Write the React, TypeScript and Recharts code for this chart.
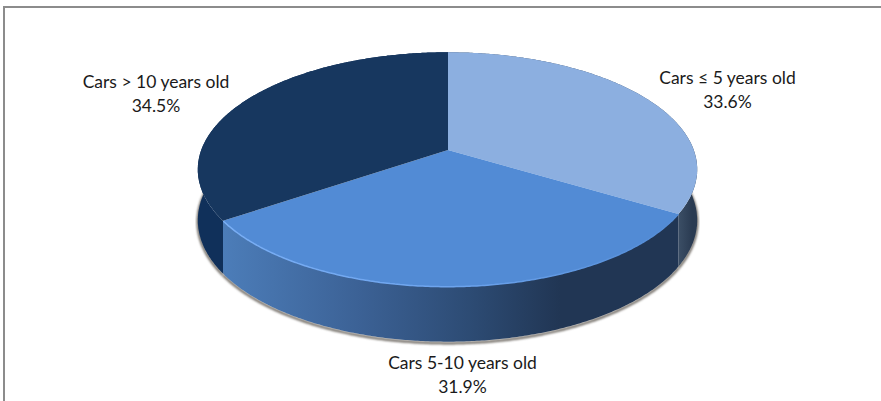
import React from "react";
import { PieChart, Pie } from "recharts";

const categories = ["Cars ≤ 5 years old", "Cars 5-10 years old", "Cars > 10 years old"];
const shares = [33.6, 31.9, 34.5];
const topColors = ["#8cafe0", "#528bd5", "#17375f"];
const wallColors = ["url(#wallRight)", "url(#wallFront)", "#10305a"];

const chartData = categories.map((name, i) => ({ name, value: shares[i] }));

// label baselines relative to the pie apex
const labelOffsets = [
  [279.5, -66],
  [14.5, 219],
  [-292, -62],
];

// tilted disc: unit circle -> screen, nearer side drawn bigger
function project(cx: number, cy: number, r: number, deg: number) {
  const t = (deg * Math.PI) / 180;
  const u = Math.sin(t);
  const v = -Math.cos(t);
  const w = 1 - 0.166 * v + 0.002 * u;
  return { x: cx + (2.16 * r * u) / w, y: cy + (r * v) / w, v };
}

function arcPoints(cx: number, cy: number, r: number, from: number, to: number, lift = false) {
  const pts: string[] = [];
  const steps = Math.ceil(Math.abs(to - from) * 2);
  for (let i = 0; i <= steps; i++) {
    const p = project(cx, cy, r, from + ((to - from) * i) / steps);
    const dy = lift ? 50 + 5 * p.v : 0;
    pts.push(`${p.x.toFixed(1)},${(p.y + dy).toFixed(1)}`);
  }
  return pts;
}

function TiltedSlice(props: any) {
  const { cx, cy, outerRadius, startAngle, endAngle, index } = props;
  // recharts angles run counter-clockwise from 3 o'clock
  const from = 90 - startAngle;
  const to = 90 - endAngle;
  const rim = arcPoints(cx, cy, outerRadius, from, to);
  const bottom = arcPoints(cx, cy, outerRadius, from, to, true);
  const frontFrom = Math.max(from, 80);
  const frontTo = Math.min(to, 280);
  return (
    <g>
      <polyline
        points={arcPoints(cx, cy + 1.5, outerRadius, frontFrom, frontTo, true).join(" ")}
        fill="none"
        stroke="#6f6a64"
        strokeWidth={2.5}
        filter="url(#rimShadow)"
      />
      <polygon points={[...rim, ...bottom.reverse()].join(" ")} fill={wallColors[index]} />
      <polygon points={[`${cx},${cy}`, ...rim].join(" ")} fill={topColors[index]} />
      {index === 1 && (
        <polyline points={rim.join(" ")} fill="none" stroke="url(#rimLight)" strokeWidth={1.5} />
      )}
    </g>
  );
}

function SliceLabel(props: any) {
  const { cx, cy, index, name, value } = props;
  const x = cx + labelOffsets[index][0];
  const y = cy + labelOffsets[index][1];
  return (
    <text x={x} textAnchor="middle" fontFamily="Lato" fontSize={17.5} fill="#1a1a1a">
      <tspan x={x} y={y}>{name}</tspan>
      <tspan x={x} y={y + 24}>{value.toFixed(1)}%</tspan>
    </text>
  );
}

export default function App() {
  return (
    <div style={{ position: "absolute", left: 0, top: 0, width: 881, height: 401, overflow: "hidden", background: "#fff" }}>
      <div
        style={{
          position: "absolute",
          left: 3,
          top: 6,
          width: 878,
          height: 395,
          borderLeft: "2px solid #8c8c8c",
          borderTop: "2px solid #8c8c8c",
        }}
      />
      <div style={{ position: "absolute", left: 0, top: 0 }}>
        <PieChart width={881} height={401} margin={{ top: 0, right: 0, bottom: 0, left: 0 }}>
          <defs>
            <linearGradient id="wallFront" gradientUnits="userSpaceOnUse" x1="222" y1="0" x2="560" y2="0">
              <stop offset="0" stopColor="#4c7db9" />
              <stop offset="0.4" stopColor="#3c6296" />
              <stop offset="0.75" stopColor="#2c4a72" />
              <stop offset="1" stopColor="#213654" />
            </linearGradient>
            <linearGradient id="wallRight" gradientUnits="userSpaceOnUse" x1="678" y1="0" x2="692" y2="0">
              <stop offset="0" stopColor="#3c4f66" />
              <stop offset="1" stopColor="#2a3b52" />
            </linearGradient>
            <linearGradient id="rimLight" gradientUnits="userSpaceOnUse" x1="222" y1="0" x2="676" y2="0">
              <stop offset="0" stopColor="#79aef5" />
              <stop offset="0.5" stopColor="#6da4ee" />
              <stop offset="1" stopColor="#528bd5" />
            </linearGradient>
            <filter id="rimShadow" x="-10%" y="-10%" width="120%" height="120%">
              <feGaussianBlur stdDeviation="1.2" />
            </filter>
          </defs>
          <Pie
            data={chartData}
            dataKey="value"
            nameKey="name"
            cx={448}
            cy={150}
            outerRadius={114}
            startAngle={90}
            endAngle={-270}
            stroke="none"
            shape={TiltedSlice}
            label={SliceLabel}
            labelLine={false}
            isAnimationActive={false}
          />
        </PieChart>
      </div>
    </div>
  );
}
